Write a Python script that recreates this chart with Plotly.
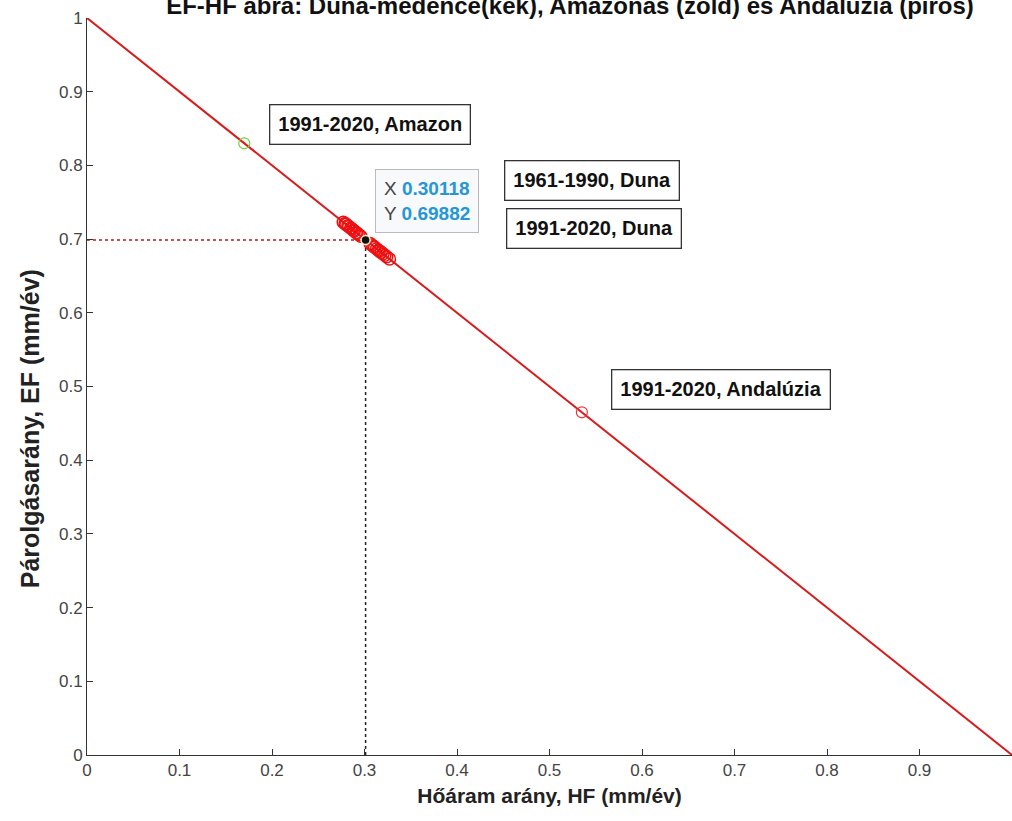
import plotly.graph_objects as go

# Data
line_hf = [0.0, 1.0]
line_ef = [1.0, 0.0]

duna_hf = [0.277, 0.279, 0.280, 0.282, 0.283, 0.285, 0.286, 0.288, 0.289, 0.291, 0.292, 0.294, 0.296,
           0.306, 0.308, 0.310, 0.311, 0.313, 0.315, 0.316, 0.318, 0.320, 0.322, 0.324, 0.327]
duna_ef = [1 - v for v in duna_hf]

amazon_hf = [0.170]
amazon_ef = [0.830]

andal_hf = [0.535]
andal_ef = [0.465]

tip_x = 0.30118
tip_y = 0.69882

x_ticks = [0, 0.1, 0.2, 0.3, 0.4, 0.5, 0.6, 0.7, 0.8, 0.9]
y_ticks = [0, 0.1, 0.2, 0.3, 0.4, 0.5, 0.6, 0.7, 0.8, 0.9, 1]

labels = ["1991-2020, Amazon", "1961-1990, Duna", "1991-2020, Duna", "1991-2020, Andalúzia"]
label_pos = [(0.3056, 0.856), (0.5464, 0.780), (0.5486, 0.715), (0.6857, 0.4966)]

fig = go.Figure()

# dotted guide lines
fig.add_trace(go.Scatter(x=[0, tip_x], y=[tip_y, tip_y], mode="lines",
                         line=dict(color="#c0141c", width=1.5, dash="dot"),
                         hoverinfo="skip", showlegend=False))
fig.add_trace(go.Scatter(x=[tip_x, tip_x], y=[0, tip_y], mode="lines",
                         line=dict(color="#222222", width=1.5, dash="dot"),
                         hoverinfo="skip", showlegend=False))

# main line
fig.add_trace(go.Scatter(x=line_hf, y=line_ef, mode="lines",
                         line=dict(color="#d91a1a", width=2),
                         showlegend=False, cliponaxis=False))

# markers
fig.add_trace(go.Scatter(x=duna_hf, y=duna_ef, mode="markers",
                         marker=dict(symbol="circle-open", size=12,
                                     line=dict(color="#ee1111", width=1.5), color="#ee1111"),
                         showlegend=False))
fig.add_trace(go.Scatter(x=amazon_hf, y=amazon_ef, mode="markers",
                         marker=dict(symbol="circle-open", size=11,
                                     line=dict(color="#77cc33", width=1.2), color="#77cc33"),
                         showlegend=False))
fig.add_trace(go.Scatter(x=andal_hf, y=andal_ef, mode="markers",
                         marker=dict(symbol="circle-open", size=11,
                                     line=dict(color="#ee3333", width=1.2), color="#ee3333"),
                         showlegend=False))
fig.add_trace(go.Scatter(x=[tip_x], y=[tip_y], mode="markers",
                         marker=dict(symbol="circle", size=9, color="#111111",
                                     line=dict(color="#f5f0c8", width=1.5)),
                         showlegend=False))

annotations = []
for txt, (ax, ay) in zip(labels, label_pos):
    annotations.append(dict(x=ax, y=ay, xref="x", yref="y", text="<b>" + txt + "</b>",
                            showarrow=False, font=dict(family="Liberation Sans, Arial", size=20, color="#111111"),
                            bgcolor="white", bordercolor="#333333", borderwidth=1.3, borderpad=8))

annotations.append(dict(x=0.368, y=0.7517, xref="x", yref="y",
                        text=("X <b><span style='color:#2596d6'>%.5f</span></b><br>"
                              "Y <b><span style='color:#2596d6'>%.5f</span></b>") % (tip_x, tip_y),
                        showarrow=False, align="left",
                        font=dict(family="Liberation Sans, Arial", size=19, color="#444444"),
                        bgcolor="#f7f9fb", bordercolor="#bbbbbb", borderwidth=1, borderpad=8))

# y-axis title (placed as annotation to match the reference position)
annotations.append(dict(x=0, y=0.442, xref="paper", yref="paper", xanchor="center", yanchor="middle",
                        xshift=-57, textangle=-90, showarrow=False,
                        text="<b>Párolgásarány, EF (mm/év)</b>",
                        font=dict(family="Liberation Sans, Arial", size=25, color="#222222")))

fig.update_layout(
    width=1012, height=821,
    margin=dict(l=87, r=0, t=18, b=66),
    paper_bgcolor="white", plot_bgcolor="white",
    title=dict(text="<b>EF-HF ábra: Duna-medence(kék), Amazonas (zöld) és Andalúzia (piros)</b>",
               x=570 / 1012, xanchor="center", y=1 - 6 / 821, yanchor="middle",
               font=dict(family="Liberation Sans, Arial", size=24, color="#111111")),
    annotations=annotations,
    xaxis=dict(range=[0, 1], tickvals=x_ticks, ticktext=[("%g" % v) for v in x_ticks],
               ticks="inside", ticklen=6, tickcolor="#333333",
               showline=True, linecolor="#333333", linewidth=1, mirror=False,
               showgrid=False, zeroline=False,
               tickfont=dict(family="Liberation Sans Narrow, Liberation Sans", size=17, color="#444444"),
               title=dict(text="<b>Hőáram arány, HF (mm/év)</b>", standoff=8,
                          font=dict(family="Liberation Sans, Arial", size=21, color="#222222"))),
    yaxis=dict(range=[0, 1], tickvals=y_ticks, ticktext=[("%g" % v) for v in y_ticks],
               ticks="inside", ticklen=6, tickcolor="#333333",
               showline=True, linecolor="#333333", linewidth=1, mirror=False,
               showgrid=False, zeroline=False,
               tickfont=dict(family="Liberation Sans Narrow, Liberation Sans", size=17, color="#444444")),
)

fig.write_html("out.html", config={"displayModeBar": False},
               post_script="document.body.style.margin='0px';")
